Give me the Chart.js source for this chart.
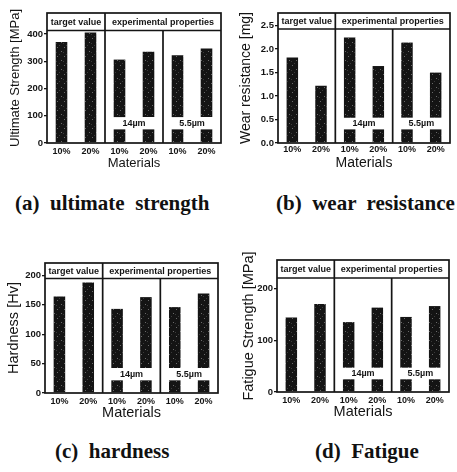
<!DOCTYPE html>
<html>
<head>
<meta charset="utf-8">
<script src="https://cdn.jsdelivr.net/npm/chart.js@4"></script>
<style>
  html, body { margin: 0; padding: 0; background: #fff; }
  #wrap { position: relative; width: 457px; height: 472px; overflow: hidden; }
  canvas { position: absolute; }
  .cap {
    position: absolute; white-space: pre;
    font-family: "Liberation Serif", "Times New Roman", serif;
    font-weight: bold; font-size: 21px; color: #111; line-height: 1;
  }
</style>
</head>
<body>
<div id="wrap">
  <canvas id="c-strength" width="228" height="175" style="left:0;top:0"></canvas>
  <canvas id="c-wear" width="229" height="175" style="left:228px;top:0"></canvas>
  <canvas id="c-hardness" width="228" height="190" style="left:0;top:235px"></canvas>
  <canvas id="c-fatigue" width="229" height="189" style="left:228px;top:235px"></canvas>
  <div class="cap" style="left:15px;top:193px">(a)  ultimate  strength</div>
  <div class="cap" style="left:276px;top:193px">(b)  wear  resistance</div>
  <div class="cap" style="left:55px;top:441px">(c)  hardness</div>
  <div class="cap" style="left:315px;top:441px">(d)  Fatigue</div>
</div>
<script>
// ---- data ----
const materials = ['10%', '20%', '10%', '20%', '10%', '20%'];
const headers = ['target value', 'experimental properties'];
const sizeLabels = ['14\u00b5m', '5.5\u00b5m'];

const strength = [371, 405, 306, 335, 322, 347];
const strengthBreak = [50, 95];

const wear = [1.82, 1.22, 2.25, 1.64, 2.14, 1.50];
const wearBreak = [0.29, 0.54];

const hardness = [164, 188, 143, 163, 146, 169];
const hardnessBreak = [21.5, 42.5];

const fatigue = [144, 170, 135, 163, 145, 166];
const fatigueBreak = [24.5, 47];

const INK = '#141414';
Chart.defaults.font.family = '"Liberation Sans", Arial, sans-serif';
Chart.defaults.color = INK;

// dark fill with a sparse grey speckle, like the printed bars
const speckle = (() => {
  const c = document.createElement('canvas');
  c.width = 7; c.height = 9;
  const g = c.getContext('2d');
  g.fillStyle = INK;
  g.fillRect(0, 0, 7, 9);
  g.fillStyle = '#6a6a6a';
  g.fillRect(1, 2, 1, 1);
  g.fillRect(5, 6, 1, 1);
  g.fillStyle = '#3a3a3a';
  g.fillRect(3, 0, 1, 1);
  g.fillRect(0, 7, 1, 1);
  return g.createPattern(c, 'repeat');
})();

// frame, header strip, section dividers and the size labels in the bar gaps
const panelDecor = {
  id: 'panelDecor',
  afterDatasetsDraw(chart, args, opts) {
    const { ctx, chartArea: a, scales: { x, y } } = chart;
    const div1 = (x.getPixelForValue(1) + x.getPixelForValue(2)) / 2;
    const div2 = (x.getPixelForValue(3) + x.getPixelForValue(4)) / 2;
    const hb = a.top + opts.headerHeight;

    ctx.save();
    ctx.fillStyle = '#fff';
    ctx.fillRect(a.left, a.top, a.right - a.left, opts.headerHeight);
    ctx.strokeStyle = INK;
    ctx.lineWidth = 1.7;
    ctx.strokeRect(a.left, a.top, a.right - a.left, a.bottom - a.top);
    ctx.beginPath();
    ctx.moveTo(a.left, hb); ctx.lineTo(a.right, hb);
    ctx.moveTo(div1, a.top); ctx.lineTo(div1, a.bottom);
    ctx.moveTo(div2, hb); ctx.lineTo(div2, a.bottom);
    ctx.stroke();

    ctx.fillStyle = INK;
    ctx.textAlign = 'center';
    ctx.textBaseline = 'middle';
    ctx.font = 'bold 9px "Liberation Sans", Arial, sans-serif';
    ctx.fillText(headers[0], (a.left + div1) / 2, (a.top + hb) / 2 + 1);
    ctx.fillText(headers[1], (div1 + a.right) / 2, (a.top + hb) / 2 + 1);

    const gapY = y.getPixelForValue((opts.gap[0] + opts.gap[1]) / 2);
    ctx.fillText(sizeLabels[0], (div1 + div2) / 2, gapY);
    ctx.fillText(sizeLabels[1], (div2 + a.right) / 2, gapY);
    ctx.restore();
  }
};

const makePanel = (id, p) => {
  const canvas = document.getElementById(id);
  const w = canvas.width, h = canvas.height;
  // target bars are whole, experimental bars are broken around the size label
  const lower = p.values.map((v, i) => i < 2 ? [0, v] : [0, p.gap[0]]);
  const upper = p.values.map((v, i) => i < 2 ? null : [p.gap[1], v]);
  const barStyle = { backgroundColor: speckle, borderWidth: 0, barPercentage: 0.4, categoryPercentage: 1, grouped: false };

  new Chart(canvas, {
    type: 'bar',
    data: {
      labels: materials,
      datasets: [
        { data: lower, ...barStyle },
        { data: upper, ...barStyle }
      ]
    },
    options: {
      responsive: false,
      animation: false,
      layout: { padding: { left: 0, top: p.area[1], right: w - p.area[2], bottom: h - p.area[3] - 30 } },
      plugins: {
        legend: { display: false },
        tooltip: { enabled: false },
        panelDecor: { headerHeight: p.header, gap: p.gap }
      },
      scales: {
        x: {
          grid: { display: false, drawTicks: false },
          border: { display: false },
          ticks: { padding: p.xTickPad, font: { size: 9, weight: 'bold' }, color: INK },
          title: {
            display: true, text: 'Materials', color: INK,
            font: { size: p.titleSize }, padding: { top: 0, bottom: 30 - 20 - p.titleSize * 0.6 }
          },
          afterFit: (s) => { s.height = 30; }
        },
        y: {
          min: 0,
          max: p.max,
          grid: { drawOnChartArea: false, tickLength: 3, color: INK, lineWidth: 1.3 },
          border: { display: false },
          ticks: {
            stepSize: p.step, includeBounds: false, padding: 1, color: INK,
            font: { size: 9.5, weight: 'bold' },
            callback: (v) => p.decimals ? v.toFixed(p.decimals) : v
          },
          title: {
            display: true, text: p.yTitle, color: INK,
            font: { size: p.titleSize }, padding: { top: p.yTitleX - p.titleSize * 0.6, bottom: 0 }
          },
          afterFit: (s) => { s.width = p.area[0]; }
        }
      }
    },
    plugins: [panelDecor]
  });
};

makePanel('c-strength', {
  values: strength, gap: strengthBreak, max: 477, step: 100,
  yTitle: 'Ultimate Strength [MPa]', titleSize: 13, yTitleX: 15,
  area: [47, 13, 221, 143], header: 17.5, xTickPad: 3
});
makePanel('c-wear', {
  values: wear, gap: wearBreak, max: 2.77, step: 0.5, decimals: 1,
  yTitle: 'Wear resistance [mg]', titleSize: 14, yTitleX: 18,
  area: [50, 13, 222, 143], header: 16, xTickPad: 1
});
makePanel('c-hardness', {
  values: hardness, gap: hardnessBreak, max: 221, step: 50,
  yTitle: 'Hardness [Hv]', titleSize: 14.5, yTitleX: 13.5,
  area: [45, 28, 218, 158], header: 15.5, xTickPad: 3
});
makePanel('c-fatigue', {
  values: fatigue, gap: fatigueBreak, max: 255, step: 100,
  yTitle: 'Fatigue Strength [MPa]', titleSize: 14.5, yTitleX: 20.5,
  area: [49, 25, 221, 157], header: 18, xTickPad: 3
});
</script>
</body>
</html>
